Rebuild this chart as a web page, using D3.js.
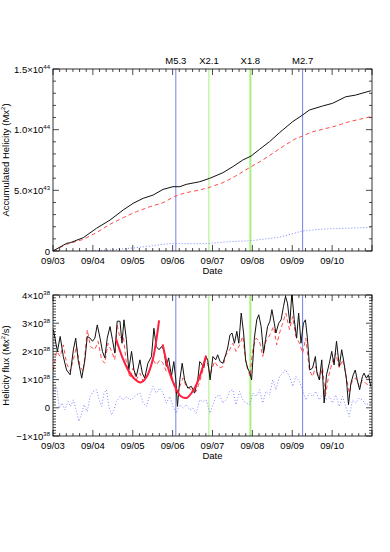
<!DOCTYPE html>
<html>
<head>
<meta charset="utf-8">
<script src="https://cdn.jsdelivr.net/npm/d3@7"></script>
<style>
  body { margin: 0; background: #fff; }
  svg { display: block; font-family: "Liberation Sans", Arial, sans-serif; }
</style>
</head>
<body>
<div id="chart"></div>
<script>
// Days since 09/03 00:00; tick labels for each day.
const dayLabels = ['09/03', '09/04', '09/05', '09/06', '09/07', '09/08', '09/09', '09/10'];

// Flare markers [day, label, kind]
const flares = [
  [3.08, 'M5.3', 'M'],
  [3.91, 'X2.1', 'X'],
  [4.95, 'X1.8', 'X'],
  [6.26, 'M2.7', 'M']
];

// Accumulated helicity, units of 1e43 Mx^2
const accTotal = [[0,0],[0.34,0.63],[0.43,0.68],[0.76,1.10],[1.09,1.87],[1.43,2.55],[1.76,3.38],[2.01,3.93],[2.26,4.34],[2.51,4.61],[2.76,5.08],[3.01,5.30],[3.18,5.30],[3.34,5.49],[3.68,5.71],[3.93,5.99],[4.26,6.45],[4.51,6.95],[4.76,7.50],[4.97,7.83],[5.18,8.38],[5.43,9.01],[5.68,9.75],[6.01,10.66],[6.26,11.21],[6.43,11.62],[6.76,11.95],[7.01,12.17],[7.34,12.71],[7.59,12.85],[7.97,13.21]];
const accDashed = [[0,0],[0.34,0.55],[0.76,0.96],[1.09,1.51],[1.43,2.20],[1.76,2.75],[2.09,3.24],[2.43,3.65],[2.76,3.98],[3.05,4.50],[3.30,4.78],[3.68,5.03],[3.93,5.25],[4.26,5.63],[4.51,6.04],[4.76,6.54],[4.97,6.95],[5.26,7.50],[5.51,8.05],[5.76,8.60],[6.05,9.20],[6.26,9.48],[6.51,9.83],[6.76,10.03],[7.09,10.30],[7.43,10.66],[7.68,10.85],[7.97,11.07]];
const accDotted = [[0,0],[0.5,-0.05],[1.0,0.0],[1.43,0.08],[2.01,0.25],[2.43,0.41],[2.84,0.58],[3.05,0.63],[3.5,0.60],[3.93,0.63],[4.43,0.77],[4.97,0.85],[5.67,1.13],[6.26,1.65],[6.76,1.81],[7.34,1.87],[7.97,1.95]];

// Helicity flux, units of 1e38 Mx^2/s
const fluxTotal = [[0.01,2.77],[0.05,2.47],[0.11,2.00],[0.18,2.53],[0.26,1.81],[0.34,1.34],[0.43,1.17],[0.51,2.05],[0.57,2.47],[0.63,1.70],[0.72,1.05],[0.80,1.70],[0.86,2.53],[0.93,2.47],[0.99,2.36],[1.05,2.47],[1.11,2.94],[1.18,2.47],[1.24,2.00],[1.30,1.77],[1.36,2.47],[1.43,2.88],[1.49,2.42],[1.55,1.94],[1.61,3.07],[1.68,3.07],[1.73,2.29],[1.78,3.12],[1.84,2.42],[1.90,1.34],[1.97,2.00],[2.03,1.34],[2.09,1.11],[2.18,1.70],[2.24,1.23],[2.30,1.05],[2.38,1.58],[2.47,1.82],[2.53,2.82],[2.59,2.17],[2.66,2.06],[2.72,2.17],[2.78,2.06],[2.84,1.47],[2.90,1.77],[2.97,1.11],[3.03,1.64],[3.08,0.99],[3.12,0.05],[3.18,0.99],[3.24,1.58],[3.30,0.99],[3.38,0.70],[3.47,0.76],[3.55,0.52],[3.63,0.99],[3.68,1.64],[3.72,1.58],[3.78,1.41],[3.83,1.82],[3.88,1.70],[3.94,0.99],[4.01,1.82],[4.08,1.70],[4.13,1.88],[4.19,1.64],[4.26,1.58],[4.33,1.88],[4.38,2.12],[4.44,2.59],[4.49,2.65],[4.55,2.29],[4.61,2.71],[4.66,2.29],[4.72,3.36],[4.78,2.65],[4.83,1.70],[4.88,1.41],[4.94,1.23],[4.98,0.99],[5.05,2.47],[5.11,3.12],[5.16,3.30],[5.22,2.88],[5.28,1.94],[5.33,2.42],[5.38,2.88],[5.44,3.07],[5.49,3.48],[5.55,3.00],[5.59,2.65],[5.66,3.00],[5.72,3.12],[5.78,3.59],[5.83,3.95],[5.88,3.71],[5.94,3.00],[5.99,4.07],[6.05,3.12],[6.11,2.47],[6.16,3.36],[6.22,2.29],[6.28,3.00],[6.33,3.12],[6.38,2.47],[6.44,1.34],[6.51,1.41],[6.58,1.82],[6.62,1.23],[6.68,0.99],[6.74,1.70],[6.80,0.17],[6.86,1.17],[6.93,1.58],[6.99,2.00],[7.05,1.52],[7.11,2.36],[7.18,1.47],[7.24,2.06],[7.30,1.58],[7.36,0.99],[7.41,0.11],[7.47,0.87],[7.53,1.17],[7.58,1.34],[7.63,0.99],[7.69,0.64],[7.76,1.11],[7.80,1.23],[7.86,1.05],[7.91,1.17],[7.97,0.76]];
const fluxDashed = [[0.01,1.34],[0.09,2.00],[0.18,1.82],[0.26,2.23],[0.34,1.58],[0.43,1.29],[0.51,1.70],[0.59,2.17],[0.68,1.46],[0.76,1.29],[0.86,2.77],[0.94,2.17],[1.05,2.06],[1.13,2.36],[1.22,1.70],[1.30,1.58],[1.38,2.29],[1.47,2.00],[1.55,1.70],[1.61,2.94],[1.68,2.47],[1.76,2.59],[1.84,1.58],[1.93,1.06],[2.01,1.41],[2.09,0.99],[2.18,1.23],[2.26,0.93],[2.34,1.23],[2.43,1.34],[2.51,1.70],[2.59,1.52],[2.68,1.70],[2.76,1.58],[2.84,1.29],[2.93,1.34],[3.01,0.99],[3.09,0.46],[3.18,0.76],[3.26,1.06],[3.34,0.76],[3.47,0.64],[3.59,0.58],[3.68,0.93],[3.76,1.34],[3.84,1.77],[3.94,1.17],[4.05,1.64],[4.16,1.41],[4.26,1.46],[4.34,1.88],[4.43,2.06],[4.51,2.29],[4.59,2.00],[4.68,2.23],[4.76,2.53],[4.84,1.58],[4.94,1.11],[5.01,2.06],[5.09,2.47],[5.18,2.36],[5.26,1.82],[5.34,2.36],[5.44,2.59],[5.53,2.88],[5.61,2.23],[5.68,2.65],[5.76,3.00],[5.84,3.36],[5.93,2.77],[6.01,3.24],[6.09,2.53],[6.18,2.29],[6.26,1.94],[6.34,2.47],[6.43,1.34],[6.51,1.11],[6.59,1.46],[6.68,0.99],[6.76,1.41],[6.83,0.40],[6.91,1.11],[7.01,1.65],[7.09,1.94],[7.18,1.41],[7.26,1.70],[7.34,1.23],[7.43,0.52],[7.51,0.99],[7.59,1.06],[7.68,0.76],[7.76,0.99],[7.84,0.87],[7.97,0.76]];
const fluxDotted = [[0.01,0.64],[0.09,0.76],[0.16,-0.01],[0.22,0.17],[0.30,-0.07],[0.38,0.22],[0.44,0.05],[0.51,0.28],[0.59,-0.13],[0.65,-0.48],[0.72,-0.19],[0.78,0.11],[0.86,-0.13],[0.93,0.40],[1.01,0.58],[1.09,0.64],[1.16,0.28],[1.22,0.05],[1.28,0.52],[1.34,0.64],[1.41,-0.01],[1.47,-0.25],[1.53,-0.07],[1.59,0.22],[1.68,0.40],[1.76,0.28],[1.84,0.40],[1.93,0.28],[2.01,0.34],[2.09,0.46],[2.18,0.52],[2.26,0.17],[2.34,0.05],[2.43,0.46],[2.51,0.76],[2.59,0.52],[2.68,0.70],[2.76,0.52],[2.84,0.17],[2.93,0.40],[3.01,0.05],[3.09,-0.19],[3.18,0.11],[3.26,-0.01],[3.34,0.11],[3.43,-0.07],[3.51,-0.01],[3.59,-0.19],[3.68,0.28],[3.76,0.22],[3.84,0.28],[3.94,-0.19],[4.01,0.11],[4.09,0.40],[4.18,0.46],[4.26,0.17],[4.34,0.28],[4.43,0.58],[4.51,0.64],[4.59,0.11],[4.68,0.58],[4.76,0.28],[4.84,0.17],[4.93,0.11],[5.01,0.52],[5.09,0.40],[5.18,0.64],[5.26,0.17],[5.34,0.58],[5.43,0.46],[5.51,0.99],[5.59,0.64],[5.68,1.11],[5.76,1.23],[5.83,1.35],[5.93,1.11],[6.01,0.76],[6.09,1.11],[6.18,0.93],[6.26,0.64],[6.34,0.28],[6.43,0.52],[6.51,0.40],[6.59,0.58],[6.68,0.28],[6.78,0.52],[6.84,0.28],[6.93,0.40],[7.01,0.17],[7.09,0.46],[7.18,0.05],[7.26,0.40],[7.34,0.05],[7.43,-0.31],[7.51,0.28],[7.59,0.17],[7.68,0.34],[7.76,0.28],[7.84,0.11],[7.97,0.17]];

// Two fitted arcs drawn in thick red
const fitArc1 = [[1.58,2.45],[1.75,1.75],[1.90,1.30],[2.05,1.02],[2.20,0.90],[2.35,1.10],[2.50,1.70],[2.66,3.10]];
const fitArc2 = [[2.75,2.25],[2.90,1.35],[3.05,0.78],[3.20,0.42],[3.35,0.35],[3.50,0.58],[3.65,1.00],[3.84,1.85]];

const W = 390, H = 552;
const x0 = 53, x1 = 372;
const topPanel = { y0: 69, y1: 251 };
const botPanel = { y0: 295, y1: 436 };

const svg = d3.select('#chart').append('svg')
  .attr('width', W).attr('height', H);

const x = d3.scaleLinear().domain([0, 8]).range([x0, x1]);
const yTop = d3.scaleLinear().domain([0, 15]).range([topPanel.y1, topPanel.y0]);
const yBot = d3.scaleLinear().domain([-1, 4]).range([botPanel.y1, botPanel.y0]);

const fs = 9.5;

function drawFrame(p, y, majors, minorStep, yLabel, labelFn, clipId) {
  const g = svg.append('g');
  svg.append('clipPath').attr('id', clipId)
    .append('rect').attr('x', x0).attr('y', p.y0).attr('width', x1 - x0).attr('height', p.y1 - p.y0);

  // x ticks on bottom and top, pointing inward
  const minorX = d3.range(0, 8 + 1e-9, 1 / 6);
  minorX.forEach(d => {
    const major = Math.abs(d - Math.round(d)) < 1e-6;
    const len = major ? 6 : 3;
    g.append('line').attr('x1', x(d)).attr('x2', x(d)).attr('y1', p.y1).attr('y2', p.y1 - len)
      .attr('stroke', '#000').attr('stroke-width', 0.7);
    g.append('line').attr('x1', x(d)).attr('x2', x(d)).attr('y1', p.y0).attr('y2', p.y0 + len)
      .attr('stroke', '#000').attr('stroke-width', 0.7);
  });
  // y ticks on left and right
  const [lo, hi] = y.domain();
  d3.range(lo, hi + 1e-9, minorStep).forEach(v => {
    const major = majors.some(m => Math.abs(m - v) < 1e-6);
    const len = major ? 6 : 3;
    g.append('line').attr('x1', x0).attr('x2', x0 + len).attr('y1', y(v)).attr('y2', y(v))
      .attr('stroke', '#000').attr('stroke-width', 0.7);
    g.append('line').attr('x1', x1).attr('x2', x1 - len).attr('y1', y(v)).attr('y2', y(v))
      .attr('stroke', '#000').attr('stroke-width', 0.7);
  });

  // y tick labels
  majors.forEach(v => {
    const t = g.append('text').attr('x', 50).attr('y', y(v) + 3.5)
      .attr('text-anchor', 'end').attr('font-size', fs).attr('fill', '#000');
    labelFn(t, v);
  });

  // x tick labels
  dayLabels.forEach((lab, i) => {
    g.append('text').attr('x', x(i)).attr('y', p.y1 + 13)
      .attr('text-anchor', 'middle').attr('font-size', fs).text(lab);
  });
  g.append('text').attr('x', (x0 + x1) / 2).attr('y', p.y1 + 23)
    .attr('text-anchor', 'middle').attr('font-size', fs).text('Date');

  // y title
  g.append('text')
    .attr('transform', `translate(9,${(p.y0 + p.y1) / 2}) rotate(-90)`)
    .attr('text-anchor', 'middle').attr('font-size', fs)
    .html(yLabel);
}

function sciLabel(t, mant, exp) {
  t.append('tspan').text(`${mant}×10`);
  t.append('tspan').attr('font-size', 6).attr('dy', -4).text(exp);
}

function drawFlares(p) {
  flares.forEach(([d, , kind]) => {
    svg.append('line').attr('x1', x(d)).attr('x2', x(d)).attr('y1', p.y0).attr('y2', p.y1)
      .attr('stroke', kind === 'M' ? '#7282e6' : '#a8f07c')
      .attr('stroke-width', d > 4.5 && kind === 'X' ? 2 : 1);
  });
}

function drawSeries(data, y, clipId, color, dash, width) {
  const line = d3.line().x(d => x(d[0])).y(d => y(d[1]));
  svg.append('path').datum(data)
    .attr('clip-path', `url(#${clipId})`)
    .attr('d', line)
    .attr('fill', 'none').attr('stroke', color).attr('stroke-width', width)
    .attr('stroke-dasharray', dash);
}

// ----- top panel -----
drawFlares(topPanel);
drawSeries(accDotted, yTop, 'clipTop', '#7d86ff', '1,2', 1);
drawSeries(accDashed, yTop, 'clipTop', '#ff4a4a', '4,3', 1);
drawSeries(accTotal, yTop, 'clipTop', '#111', null, 1);
drawFrame(topPanel, yTop, [0, 5, 10, 15], 1,
  'Accumulated Helicity (Mx<tspan font-size="6" dy="-4">2</tspan><tspan dy="4">)</tspan>',
  (t, v) => {
    if (v === 0) t.text('0');
    else if (v === 5) sciLabel(t, '5.0', '43');
    else sciLabel(t, (v / 10).toFixed(1), '44');
  }, 'clipTop');

svg.append('rect').attr('x', x0).attr('y', topPanel.y0).attr('width', x1 - x0).attr('height', topPanel.y1 - topPanel.y0)
  .attr('fill', 'none').attr('stroke', '#000').attr('stroke-width', 0.8);

flares.forEach(([d, lab]) => {
  svg.append('text').attr('x', x(d)).attr('y', topPanel.y0 - 5)
    .attr('text-anchor', 'middle').attr('font-size', fs).text(lab);
});

// ----- bottom panel -----
drawFlares(botPanel);
drawSeries(fluxDotted, yBot, 'clipBot', '#7d86ff', '1,2', 1);
drawSeries(fluxDashed, yBot, 'clipBot', '#ff4a4a', '4,3', 1);
drawSeries(fluxTotal, yBot, 'clipBot', '#111', null, 1);

const arcLine = d3.line().curve(d3.curveCatmullRom).x(d => x(d[0])).y(d => yBot(d[1]));
[fitArc1, fitArc2].forEach(arc => {
  svg.append('path').datum(arc).attr('d', arcLine)
    .attr('fill', 'none').attr('stroke', '#ff1f3d').attr('stroke-width', 2);
});

drawFrame(botPanel, yBot, [-1, 0, 1, 2, 3, 4], 0.1,
  'Helicity flux (Mx<tspan font-size="6" dy="-4">2</tspan><tspan dy="4">/s)</tspan>',
  (t, v) => {
    if (v === 0) t.text('0');
    else sciLabel(t, v === -1 ? '−1' : String(v), '38');
  }, 'clipBot');

svg.append('rect').attr('x', x0).attr('y', botPanel.y0).attr('width', x1 - x0).attr('height', botPanel.y1 - botPanel.y0)
  .attr('fill', 'none').attr('stroke', '#000').attr('stroke-width', 0.8);
</script>
</body>
</html>
